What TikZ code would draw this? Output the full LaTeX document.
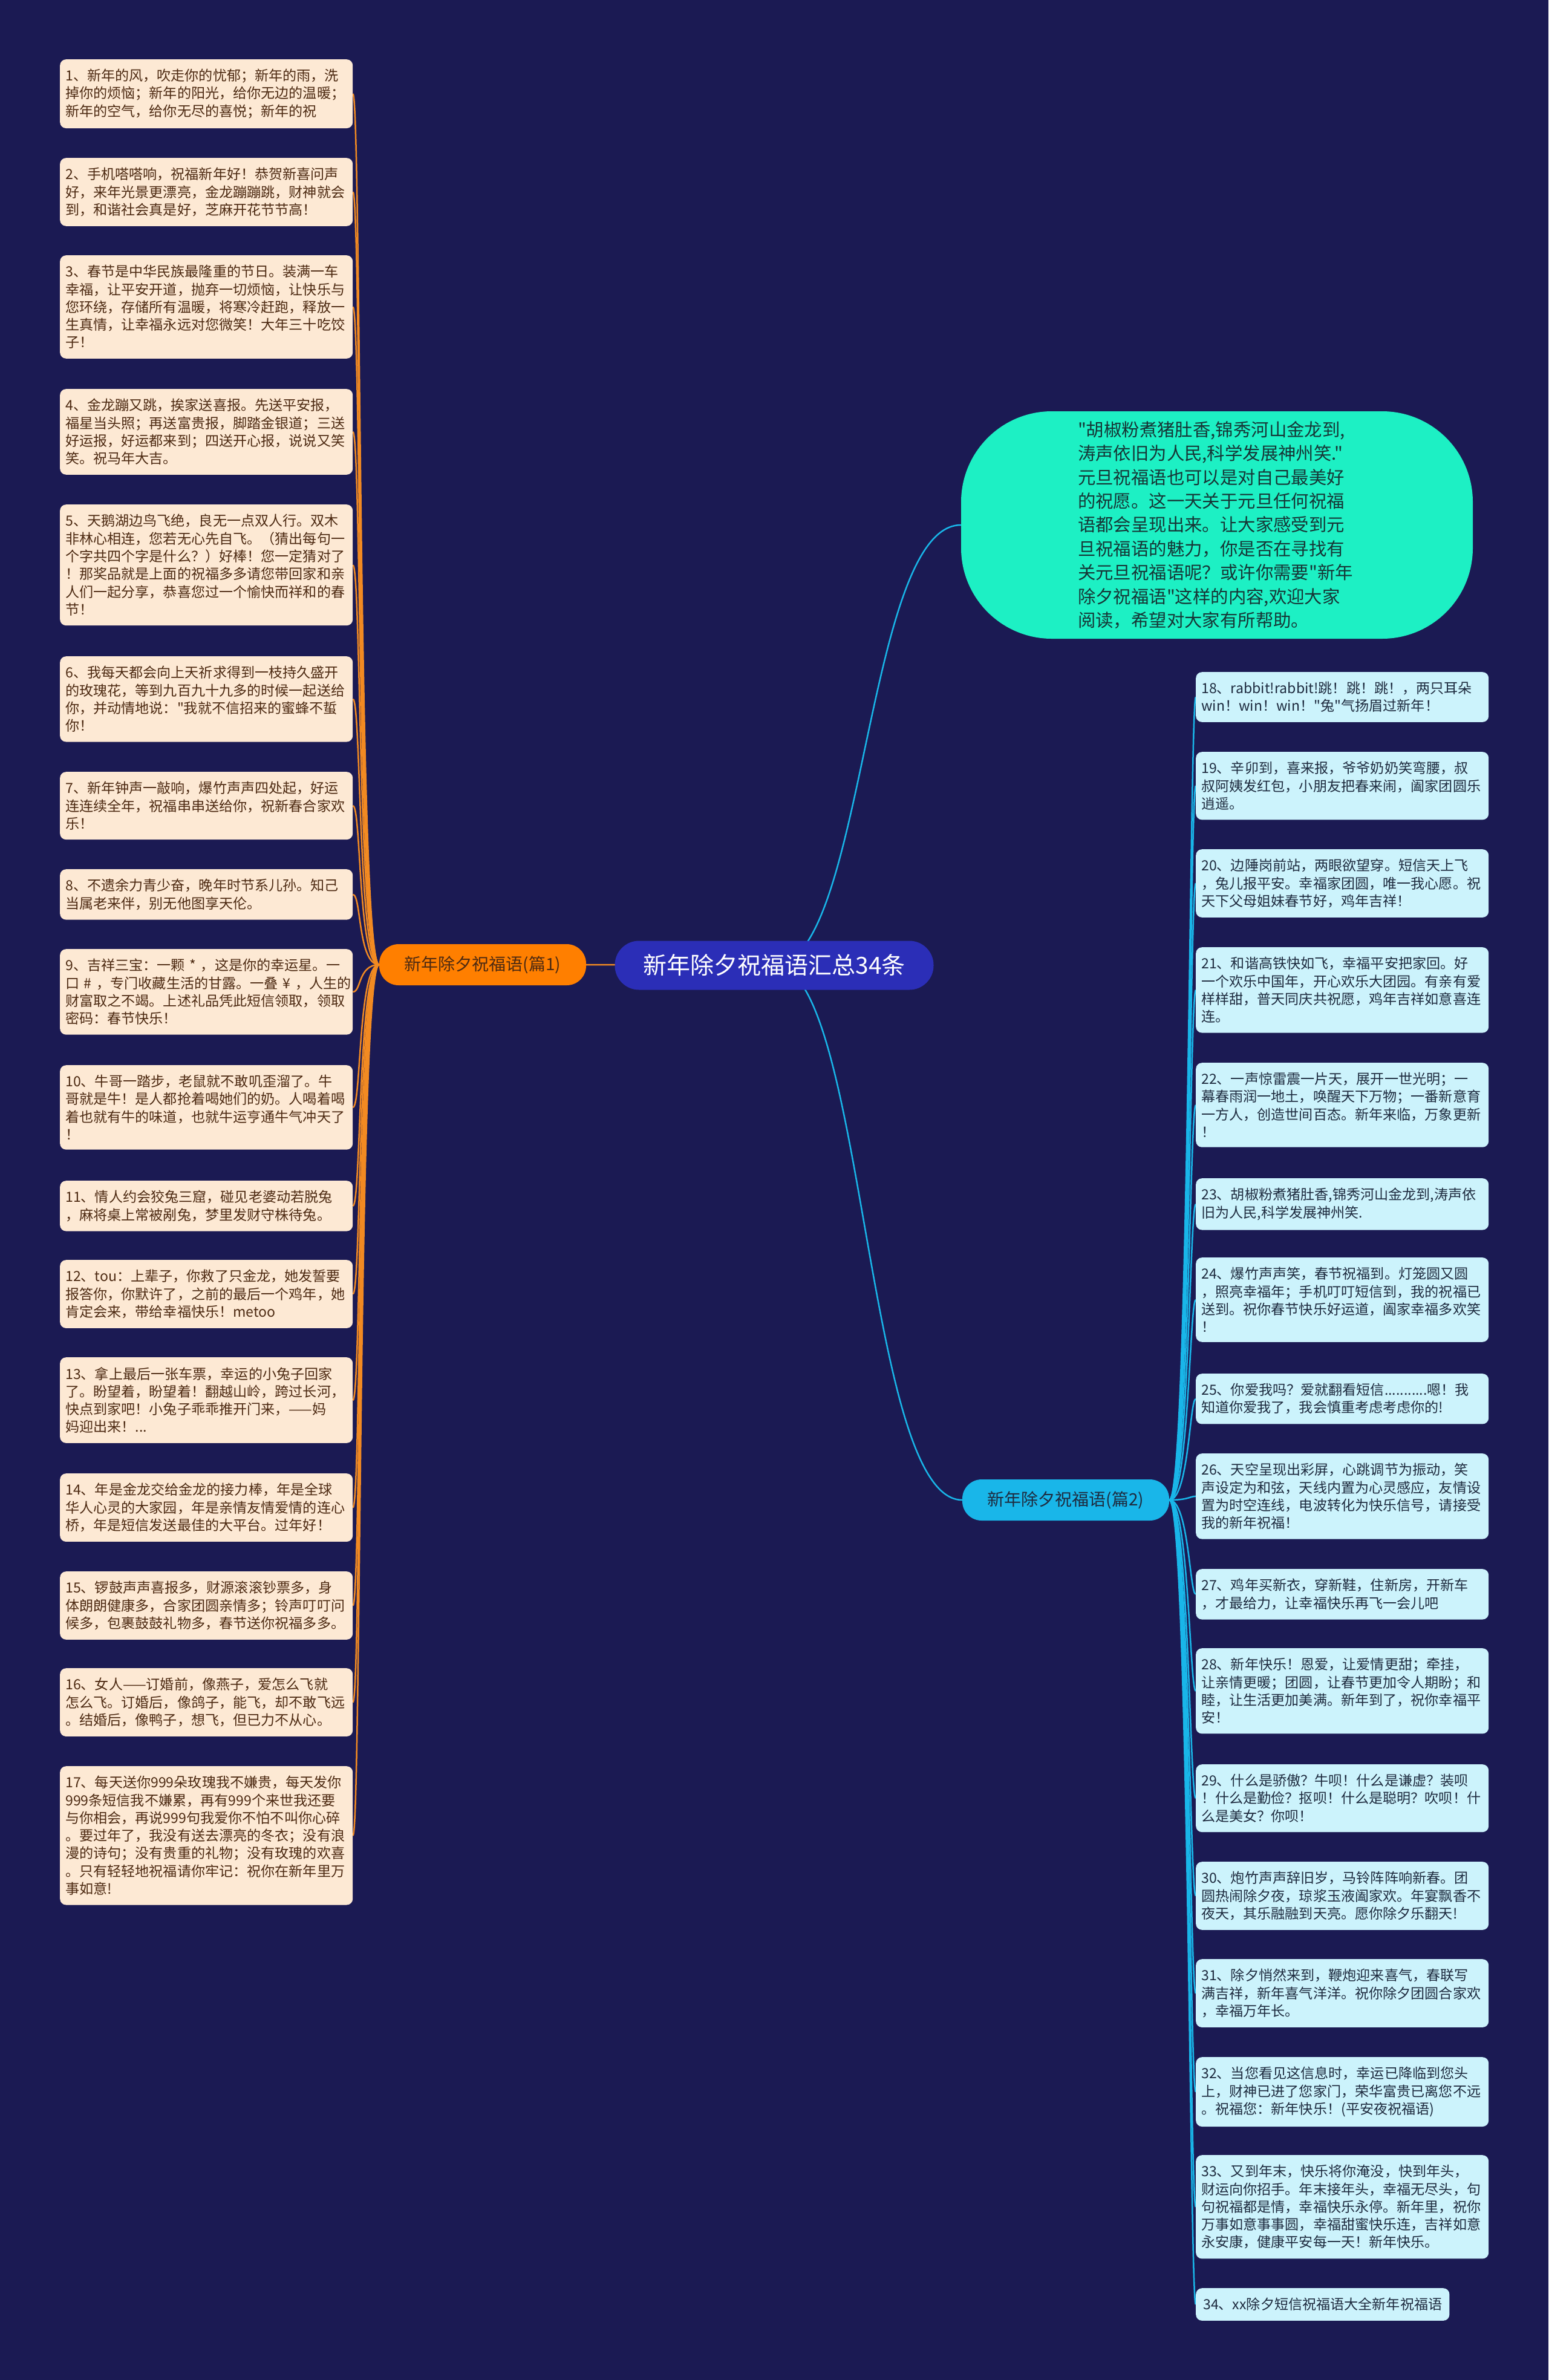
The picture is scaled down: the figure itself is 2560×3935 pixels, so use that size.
\documentclass[tikz,border=0pt]{standalone}
\usepackage{fontspec}
\setmainfont{Noto Sans CJK SC}[Ligatures=TeXOff]
\usetikzlibrary{backgrounds}

\definecolor{bgnavy}{HTML}{1B1A53}
\definecolor{peach}{HTML}{FDE9D4}
\definecolor{peachtext}{HTML}{4D2A12}
\definecolor{orangeline}{HTML}{F28A22}
\definecolor{orangenode}{HTML}{FF7F00}
\definecolor{icecyan}{HTML}{CCF3FC}
\definecolor{icetext}{HTML}{1E2B3F}
\definecolor{cyanline}{HTML}{19B6E9}
\definecolor{mint}{HTML}{1DF0C4}
\definecolor{minttext}{HTML}{163636}
\definecolor{rootblue}{HTML}{2B2EB7}

\newcommand\leaffont{\fontsize{23.1pt}{29.3pt}\selectfont}

\begin{document}
\begin{tikzpicture}[x=1pt,y=-1pt]
  \tikzstyle{card}=[anchor=north west, rounded corners=10pt, inner xsep=9pt, inner ysep=16pt,
    align=left, font=\leaffont]
  \tikzstyle{leafL}=[card, fill=peach, text=peachtext, text width=466pt]
  \tikzstyle{leafR}=[card, fill=icecyan, text=icetext, text width=466pt]
  \tikzstyle{leafRshort}=[card, fill=icecyan, text=icetext, inner xsep=12pt]
  \tikzstyle{branch}=[rounded corners=32pt, minimum width=342pt, minimum height=68pt,
    font=\fontsize{28pt}{32pt}\selectfont]
  \tikzstyle{linkL}=[draw=orangeline, line width=2.5pt]
  \tikzstyle{linkR}=[draw=cyanline, line width=2.5pt]

  \useasboundingbox (0,0) rectangle (2560,3935);

  % centre and branches
  \node[fill=rootblue, text=white, rounded corners=40pt, minimum width=527pt, minimum height=81pt,
    font=\fontsize{39pt}{44pt}\selectfont] (root) at (1280,1596) {新年除夕祝福语汇总34条};
  \node[branch, fill=orangenode, text=peachtext] (b1) at (798,1595) {新年除夕祝福语(篇1)};
  \node[branch, fill=cyanline, text=icetext] (b2) at (1762,2480) {新年除夕祝福语(篇2)};
  \node[fill=mint, text=minttext, rounded corners=150pt, minimum width=846pt, minimum height=376pt,
    text width=460pt, align=left, font=\fontsize{29.4pt}{39.4pt}\selectfont] (intro) at (2012,868)
    {"胡椒粉煮猪肚香,锦秀河山金龙到,\\涛声依旧为人民,科学发展神州笑."\\元旦祝福语也可以是对自己最美好\\的祝愿。这一天关于元旦任何祝福\\语都会呈现出来。让大家感受到元\\旦祝福语的魅力，你是否在寻找有\\关元旦祝福语呢？或许你需要"新年\\除夕祝福语"这样的内容,欢迎大家\\阅读，希望对大家有所帮助。};

  % left column
  \node[leafL] (l1) at (99,98) {1、新年的风，吹走你的忧郁；新年的雨，洗\\掉你的烦恼；新年的阳光，给你无边的温暖；\\新年的空气，给你无尽的喜悦；新年的祝};
  \node[leafL] (l2) at (99,261) {2、手机嗒嗒响，祝福新年好！恭贺新喜问声\\好，来年光景更漂亮，金龙蹦蹦跳，财神就会\\到，和谐社会真是好，芝麻开花节节高！};
  \node[leafL] (l3) at (99,422) {3、春节是中华民族最隆重的节日。装满一车\\幸福，让平安开道，抛弃一切烦恼，让快乐与\\您环绕，存储所有温暖，将寒冷赶跑，释放一\\生真情，让幸福永远对您微笑！大年三十吃饺\\子！};
  \node[leafL] (l4) at (99,643) {4、金龙蹦又跳，挨家送喜报。先送平安报，\\福星当头照；再送富贵报，脚踏金银道；三送\\好运报，好运都来到；四送开心报，说说又笑\\笑。祝马年大吉。};
  \node[leafL] (l5) at (99,834) {5、天鹅湖边鸟飞绝，良无一点双人行。双木\\非林心相连，您若无心先自飞。（猜出每句一\\个字共四个字是什么？）好棒！您一定猜对了\\！那奖品就是上面的祝福多多请您带回家和亲\\人们一起分享，恭喜您过一个愉快而祥和的春\\节！};
  \node[leafL] (l6) at (99,1085) {6、我每天都会向上天祈求得到一枝持久盛开\\的玫瑰花，等到九百九十九多的时候一起送给\\你，并动情地说："我就不信招来的蜜蜂不蜇\\你！};
  \node[leafL] (l7) at (99,1276) {7、新年钟声一敲响，爆竹声声四处起，好运\\连连续全年，祝福串串送给你，祝新春合家欢\\乐！};
  \node[leafL] (l8) at (99,1437) {8、不遗余力青少奋，晚年时节系儿孙。知己\\当属老来伴，别无他图享天伦。};
  \node[leafL] (l9) at (99,1569) {9、吉祥三宝：一颗~*~，这是你的幸运星。一\\口~\#~，专门收藏生活的甘露。一叠~¥~，人生的\\财富取之不竭。上述礼品凭此短信领取，领取\\密码：春节快乐！};
  \node[leafL] (l10) at (99,1761) {10、牛哥一踏步，老鼠就不敢叽歪溜了。牛\\哥就是牛！是人都抢着喝她们的奶。人喝着喝\\着也就有牛的味道，也就牛运亨通牛气冲天了\\！};
  \node[leafL] (l11) at (99,1952) {11、情人约会狡兔三窟，碰见老婆动若脱兔\\，麻将桌上常被剐兔，梦里发财守株待兔。};
  \node[leafL] (l12) at (99,2083) {12、tou：上辈子，你救了只金龙，她发誓要\\报答你，你默许了，之前的最后一个鸡年，她\\肯定会来，带给幸福快乐！metoo};
  \node[leafL] (l13) at (99,2244) {13、拿上最后一张车票，幸运的小兔子回家\\了。盼望着，盼望着！翻越山岭，跨过长河，\\快点到家吧！小兔子乖乖推开门来，——妈\\妈迎出来！...};
  \node[leafL] (l14) at (99,2436) {14、年是金龙交给金龙的接力棒，年是全球\\华人心灵的大家园，年是亲情友情爱情的连心\\桥，年是短信发送最佳的大平台。过年好！};
  \node[leafL] (l15) at (99,2598) {15、锣鼓声声喜报多，财源滚滚钞票多，身\\体朗朗健康多，合家团圆亲情多；铃声叮叮问\\候多，包裹鼓鼓礼物多，春节送你祝福多多。};
  \node[leafL] (l16) at (99,2758) {16、女人——订婚前，像燕子，爱怎么飞就\\怎么飞。订婚后，像鸽子，能飞，却不敢飞远\\。结婚后，像鸭子，想飞，但已力不从心。};
  \node[leafL] (l17) at (99,2920) {17、每天送你999朵玫瑰我不嫌贵，每天发你\\999条短信我不嫌累，再有999个来世我还要\\与你相会，再说999句我爱你不怕不叫你心碎\\。要过年了，我没有送去漂亮的冬衣；没有浪\\漫的诗句；没有贵重的礼物；没有玫瑰的欢喜\\。只有轻轻地祝福请你牢记：祝你在新年里万\\事如意!};

  % right column
  \node[leafR] (r18) at (1977,1111) {18、rabbit!rabbit!跳！跳！跳！，两只耳朵\\win！win！win！"兔"气扬眉过新年！};
  \node[leafR] (r19) at (1977,1243) {19、辛卯到，喜来报，爷爷奶奶笑弯腰，叔\\叔阿姨发红包，小朋友把春来闹，阖家团圆乐\\逍遥。};
  \node[leafR] (r20) at (1977,1404) {20、边陲岗前站，两眼欲望穿。短信天上飞\\，兔儿报平安。幸福家团圆，唯一我心愿。祝\\天下父母姐妹春节好，鸡年吉祥！};
  \node[leafR] (r21) at (1977,1566) {21、和谐高铁快如飞，幸福平安把家回。好\\一个欢乐中国年，开心欢乐大团园。有亲有爱\\样样甜，普天同庆共祝愿，鸡年吉祥如意喜连\\连。};
  \node[leafR] (r22) at (1977,1757) {22、一声惊雷震一片天，展开一世光明；一\\幕春雨润一地土，唤醒天下万物；一番新意育\\一方人，创造世间百态。新年来临，万象更新\\！};
  \node[leafR] (r23) at (1977,1948) {23、胡椒粉煮猪肚香,锦秀河山金龙到,涛声依\\旧为人民,科学发展神州笑.};
  \node[leafR] (r24) at (1977,2079) {24、爆竹声声笑，春节祝福到。灯笼圆又圆\\，照亮幸福年；手机叮叮短信到，我的祝福已\\送到。祝你春节快乐好运道，阖家幸福多欢笑\\！};
  \node[leafR] (r25) at (1977,2271) {25、你爱我吗？爱就翻看短信...........嗯！我\\知道你爱我了，我会慎重考虑考虑你的!};
  \node[leafR] (r26) at (1977,2403) {26、天空呈现出彩屏，心跳调节为振动，笑\\声设定为和弦，天线内置为心灵感应，友情设\\置为时空连线，电波转化为快乐信号，请接受\\我的新年祝福！};
  \node[leafR] (r27) at (1977,2594) {27、鸡年买新衣，穿新鞋，住新房，开新车\\，才最给力，让幸福快乐再飞一会儿吧};
  \node[leafR] (r28) at (1977,2725) {28、新年快乐！恩爱，让爱情更甜；牵挂，\\让亲情更暖；团圆，让春节更加令人期盼；和\\睦，让生活更加美满。新年到了，祝你幸福平\\安！};
  \node[leafR] (r29) at (1977,2917) {29、什么是骄傲？牛呗！什么是谦虚？装呗\\！什么是勤俭？抠呗！什么是聪明？吹呗！什\\么是美女？你呗！};
  \node[leafR] (r30) at (1977,3078) {30、炮竹声声辞旧岁，马铃阵阵响新春。团\\圆热闹除夕夜，琼浆玉液阖家欢。年宴飘香不\\夜天，其乐融融到天亮。愿你除夕乐翻天!};
  \node[leafR] (r31) at (1977,3239) {31、除夕悄然来到，鞭炮迎来喜气，春联写\\满吉祥，新年喜气洋洋。祝你除夕团圆合家欢\\，幸福万年长。};
  \node[leafR] (r32) at (1977,3401) {32、当您看见这信息时，幸运已降临到您头\\上，财神已进了您家门，荣华富贵已离您不远\\。祝福您：新年快乐！(平安夜祝福语)};
  \node[leafR] (r33) at (1977,3563) {33、又到年末，快乐将你淹没，快到年头，\\财运向你招手。年末接年头，幸福无尽头，句\\句祝福都是情，幸福快乐永停。新年里，祝你\\万事如意事事圆，幸福甜蜜快乐连，吉祥如意\\永安康，健康平安每一天！新年快乐。};
  \node[leafRshort] (r34) at (1977,3783) {34、xx除夕短信祝福语大全新年祝福语};

  % connectors, behind the nodes
  \begin{pgfonlayer}{background}
    \fill[bgnavy] (0,0) rectangle (2560,3935);
    \draw[linkL] (root.center) -- (b1.east);
    \draw[linkR] (root.center) .. controls (1430,1596) and (1430,868) .. (intro.west);
    \draw[linkR] (root.center) .. controls (1430,1596) and (1430,2480) .. (b2.west);
    \foreach \i in {1,...,17}
      \draw[linkL] (b1.west) .. controls +(-35,0) and +(14,0) .. (l\i.east);
    \foreach \i in {18,...,34}
      \draw[linkR] (b2.east) .. controls +(32,0) and +(-10,0) .. (r\i.west);
  \end{pgfonlayer}
\end{tikzpicture}
\end{document}
